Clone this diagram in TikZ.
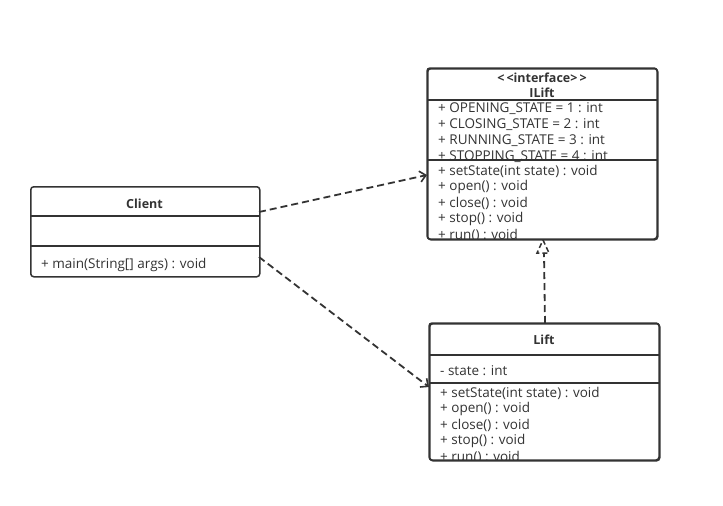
\documentclass[tikz,border=0pt]{standalone}
\usepackage{fontspec}
\setmainfont{Open Sans}
\usetikzlibrary{arrows.meta}
\definecolor{ink}{HTML}{333333}
\tikzset{
  x=1pt,y=-1pt,
  classbox/.style={draw=ink,line width=1.5pt,rounded corners=3pt,fill=white},
  sep/.style={draw=ink,line width=1.5pt},
  member/.style={anchor=west,inner sep=0pt,yshift=-1.2pt,font=\fontsize{13.5}{15}\selectfont,text=ink},
  title/.style={anchor=center,inner sep=0pt,yshift=-1pt,font=\fontsize{12.5}{15}\selectfont\bfseries,text=ink},
  depend/.style={draw=ink,line width=1.8pt,dash pattern=on 7pt off 4pt,-{Straight Barb[length=6pt,width=11pt,line width=1.6pt]}},
  realize/.style={draw=ink,line width=1.8pt,dash pattern=on 7pt off 4pt},
}
\begin{document}
\begin{tikzpicture}
\useasboundingbox[fill=white] (0,0) rectangle (723,506);
% ---------- ILift ----------
\node[classbox,minimum width=230pt,minimum height=171pt,anchor=north west,inner sep=0pt] (ilift) at (427,68) {};
\begin{scope}
\clip[rounded corners=3pt] (427,68) rectangle (657,239);
\node[title] (ilift-st) at (542,77) {{<}\,{<}interface{>}\,{>}};
\node[title] (ilift-name) at (542,92) {ILift};
\node[member] (ia1) at (438,107.5) {+ OPENING\_STATE = 1 : int};
\node[member] (ia2) at (438,123.5) {+ CLOSING\_STATE = 2 : int};
\node[member] (ia3) at (438,139.5) {+ RUNNING\_STATE = 3 : int};
\node[member] (ia4) at (438,155.5) {+ STOPPING\_STATE = 4 : int};
\node[member] (im1) at (438,170) {+ setState(int state) : void};
\node[member] (im2) at (438,186) {+ open() : void};
\node[member] (im3) at (438,202) {+ close() : void};
\node[member] (im4) at (438,218) {+ stop() : void};
\node[member] (im5) at (438,234) {+ run() : void};
\end{scope}
\draw[sep] (427,100) -- (657,100);
\draw[sep] (427,160) -- (657,160);
\draw[classbox,fill=none] (427,68) rectangle (657,239);
% ---------- Client ----------
\node[classbox,minimum width=229pt,minimum height=90pt,anchor=north west,inner sep=0pt] (client) at (30,186) {};
\node[title] (client-name) at (144.5,203) {Client};
\draw[sep] (30,216) -- (259,216);
\draw[sep] (30,246) -- (259,246);
\node[member] (cm1) at (41,264) {+ main(String[] args) : void};
% ---------- Lift ----------
\node[classbox,minimum width=230pt,minimum height=137pt,anchor=north west,inner sep=0pt] (lift) at (429,323) {};
\begin{scope}
\clip[rounded corners=3pt] (429,323) rectangle (659,460);
\node[title] (lift-name) at (544,339) {Lift};
\node[member] (la1) at (440,369) {- state : int};
\node[member] (lm1) at (440,392) {+ setState(int state) : void};
\node[member] (lm2) at (440,408) {+ open() : void};
\node[member] (lm3) at (440,424) {+ close() : void};
\node[member] (lm4) at (440,440) {+ stop() : void};
\node[member] (lm5) at (440,456) {+ run() : void};
\end{scope}
\draw[sep] (429,355) -- (659,355);
\draw[sep] (429,383) -- (659,383);
\draw[classbox,fill=none] (429,323) rectangle (659,460);
% ---------- connectors ----------
\coordinate (c1) at (259,212);
\coordinate (i1) at (427,175);
\draw[depend] (c1) -- (i1);
\coordinate (c2) at (259,257);
\coordinate (l1) at (429,387);
\draw[depend] (c2) -- (l1);
\coordinate (ltop) at (545,323);
\coordinate (ibot) at (543,240);
\draw[realize] (ltop) -- (544,253);
\draw[realize,line width=1.5pt,dash pattern=on 5pt off 3pt] (ibot) -- ++(6,13) -- ++(-12,0) -- cycle;
\end{tikzpicture}
\end{document}
